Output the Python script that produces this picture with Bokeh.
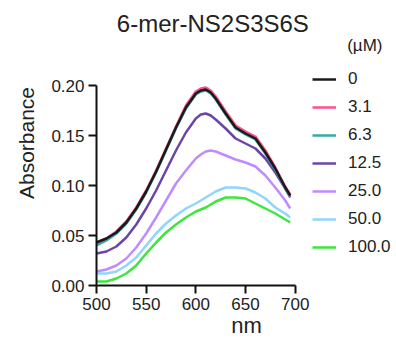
import math
from bokeh.plotting import figure
from bokeh.models import (Range1d, FixedTicker, NumeralTickFormatter, Legend,
                          LegendItem, Label)
from bokeh.embed import file_html
from bokeh.resources import INLINE

# ---- data ----
wavelength = [500, 510, 520, 530, 540, 550, 560, 570, 580, 590, 600, 605, 610,
              615, 620, 630, 640, 650, 660, 670, 680, 690, 695]

conc_labels = ["0", "3.1", "6.3", "12.5", "25.0", "50.0", "100.0"]

abs_0 = [0.043, 0.047, 0.053, 0.063, 0.077, 0.094, 0.114, 0.136, 0.158, 0.178,
         0.192, 0.195, 0.196, 0.193, 0.187, 0.172, 0.158, 0.152, 0.147, 0.133,
         0.117, 0.098, 0.090]
abs_3_1 = [0.043, 0.047, 0.054, 0.064, 0.078, 0.095, 0.115, 0.137, 0.159, 0.180,
           0.194, 0.197, 0.198, 0.195, 0.189, 0.174, 0.160, 0.154, 0.149, 0.135,
           0.118, 0.099, 0.091]
abs_6_3 = [0.040, 0.045, 0.052, 0.062, 0.076, 0.093, 0.113, 0.135, 0.157, 0.177,
           0.191, 0.194, 0.195, 0.192, 0.186, 0.171, 0.157, 0.151, 0.146, 0.132,
           0.116, 0.097, 0.089]
abs_12_5 = [0.032, 0.034, 0.039, 0.048, 0.061, 0.077, 0.095, 0.115, 0.135, 0.153,
            0.167, 0.171, 0.172, 0.170, 0.166, 0.157, 0.147, 0.142, 0.137, 0.127,
            0.113, 0.097, 0.088]
abs_25 = [0.014, 0.016, 0.020, 0.027, 0.038, 0.052, 0.068, 0.085, 0.102, 0.115,
          0.127, 0.131, 0.134, 0.135, 0.134, 0.130, 0.126, 0.123, 0.119, 0.110,
          0.098, 0.085, 0.077]
abs_50 = [0.012, 0.012, 0.014, 0.020, 0.028, 0.040, 0.052, 0.062, 0.070, 0.077,
          0.082, 0.085, 0.088, 0.091, 0.094, 0.098, 0.098, 0.097, 0.093, 0.087,
          0.078, 0.072, 0.068]
abs_100 = [0.004, 0.004, 0.007, 0.012, 0.020, 0.032, 0.043, 0.053, 0.061, 0.068,
           0.074, 0.076, 0.078, 0.081, 0.084, 0.088, 0.088, 0.087, 0.082, 0.077,
           0.072, 0.066, 0.063]

series = [abs_0, abs_3_1, abs_6_3, abs_12_5, abs_25, abs_50, abs_100]
colors = ["#1a1a1a", "#ff4f8b", "#3aa8a8", "#6b46a8", "#bf8cff", "#8fd6fa", "#3ce63c"]

x_ticks = [500, 550, 600, 650, 700]
y_ticks = [0.00, 0.05, 0.10, 0.15, 0.20]
x_bounds = (500, 700)
y_bounds = (0.0, 0.2)

FONT = "Liberation Sans"
TXT = "#222222"

# frame extends to the right/top edges so that legend & titles are not clipped;
# axes are bounded to the data extent
p = figure(width=396, height=343, output_backend="svg", toolbar_location=None,
           x_range=Range1d(500, 802), y_range=Range1d(0, 0.285),
           min_border_left=96, min_border_right=0, min_border_top=0,
           min_border_bottom=58)
p.outline_line_color = None
p.grid.visible = False
p.background_fill_color = "white"
p.border_fill_color = "white"

for ax in (p.xaxis[0], p.yaxis[0]):
    ax.axis_line_width = 2
    ax.axis_line_color = "#111111"
    ax.major_tick_line_width = 2
    ax.major_tick_line_color = "#111111"
    ax.major_tick_out = 8
    ax.major_tick_in = 0
    ax.minor_tick_line_color = None
    ax.major_label_text_font = FONT
    ax.major_label_text_font_size = "17px"
    ax.major_label_text_color = TXT
    ax.major_label_standoff = 4
    ax.axis_label_text_font = FONT
    ax.axis_label_text_font_style = "normal"
    ax.axis_label_text_color = TXT

p.xaxis.ticker = FixedTicker(ticks=x_ticks)
p.yaxis.ticker = FixedTicker(ticks=y_ticks)
p.xaxis.bounds = x_bounds
p.yaxis.bounds = y_bounds
p.yaxis.formatter = NumeralTickFormatter(format="0.00")

p.xaxis.axis_label = "nm"
p.xaxis.axis_label_text_font_size = "22px"
p.xaxis.axis_label_standoff = 0
p.yaxis.axis_label = "Absorbance"
p.yaxis.axis_label_text_font_size = "21px"
p.yaxis.axis_label_standoff = 10

renderers = [None] * len(series)
for i in reversed(range(len(series))):
    renderers[i] = p.line(wavelength, series[i], line_color=colors[i], line_width=2.5)

items = [LegendItem(label=lab, renderers=[r]) for lab, r in zip(conc_labels, renderers)]
legend = Legend(items=items, location=(216, 28), padding=0, margin=0,
                spacing=8, glyph_height=20, label_height=20, glyph_width=24,
                label_standoff=12, label_text_font=FONT,
                label_text_font_size="17px", label_text_color=TXT,
                border_line_color=None, background_fill_alpha=0)
p.add_layout(legend, "center")

p.add_layout(Label(x=600, y=0.2, x_offset=17, y_offset=62, text="6-mer-NS2S3S6S",
                   text_font=FONT, text_font_size="24px", text_color=TXT,
                   text_align="center", text_baseline="middle"))
p.add_layout(Label(x=700, y=0.2, x_offset=52, y_offset=40, text="(µM)",
                   text_font=FONT, text_font_size="17px", text_color=TXT,
                   text_align="left", text_baseline="middle"))

open("out.html", "w").write(file_html(p, INLINE))
